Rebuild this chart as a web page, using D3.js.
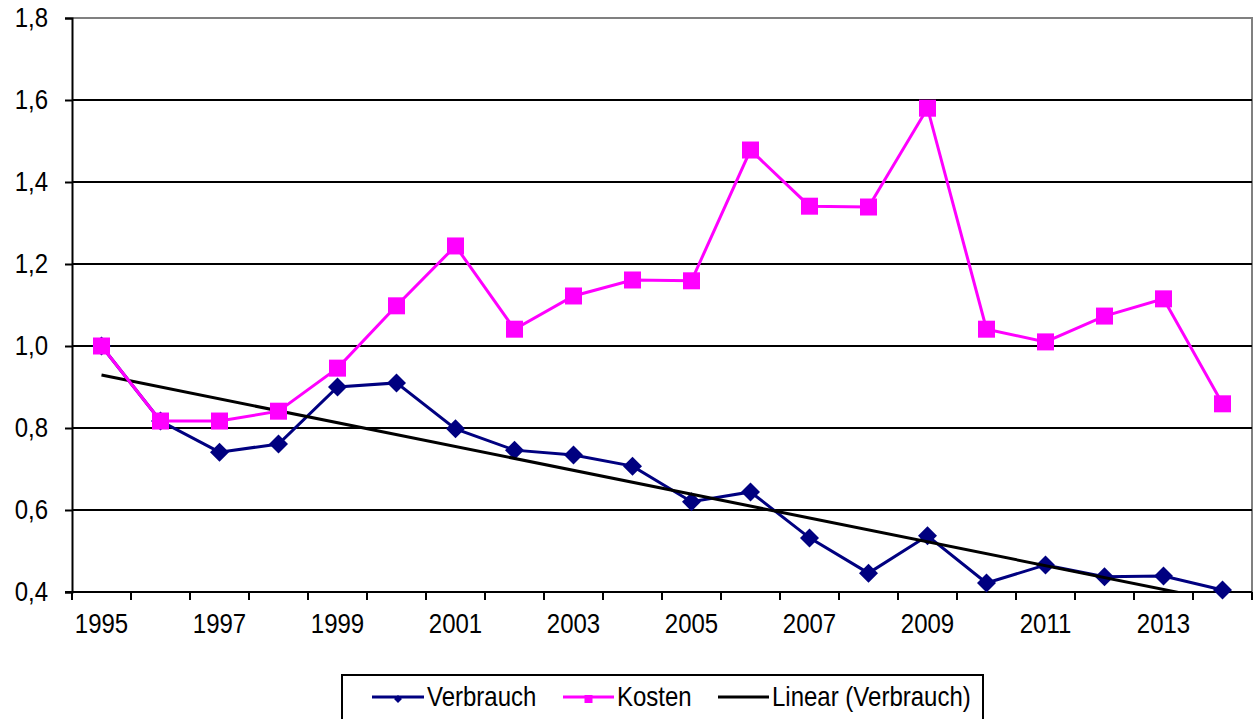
<!DOCTYPE html>
<html>
<head>
<meta charset="utf-8">
<script src="https://cdn.jsdelivr.net/npm/d3@7"></script>
<style>
  html, body { margin: 0; padding: 0; background: #fff; }
  svg { display: block; }
  text { font-family: "Liberation Sans", Arial, sans-serif; fill: #000; font-size: 24px; }
</style>
</head>
<body>
<svg id="chart" width="1258" height="719"></svg>
<script>
// Years on the category axis
const years = [1995, 1996, 1997, 1998, 1999, 2000, 2001, 2002, 2003, 2004,
               2005, 2006, 2007, 2008, 2009, 2010, 2011, 2012, 2013, 2014];
// Consumption index (1995 = 1)
const verbrauch = [1.000, 0.817, 0.741, 0.761, 0.900, 0.910, 0.798, 0.746, 0.734, 0.707,
                   0.620, 0.644, 0.532, 0.446, 0.537, 0.422, 0.466, 0.437, 0.439, 0.405];
// Cost index (1995 = 1)
const kosten = [1.000, 0.817, 0.817, 0.841, 0.946, 1.098, 1.244, 1.041, 1.122, 1.161,
                1.159, 1.478, 1.341, 1.339, 1.580, 1.041, 1.010, 1.073, 1.115, 0.859];
const yTicks = [0.4, 0.6, 0.8, 1.0, 1.2, 1.4, 1.6, 1.8];
const xLabelYears = [1995, 1997, 1999, 2001, 2003, 2005, 2007, 2009, 2011, 2013];
const legendLabels = ["Verbrauch", "Kosten", "Linear (Verbrauch)"];

const navy = "#000080", magenta = "#ff00ff";
const svg = d3.select("#chart");
const plot = { left: 72, right: 1252, top: 18, bottom: 592 };
const stretch = 1.15; // text is drawn slightly taller than wide

const x = d3.scaleBand().domain(years).range([plot.left, plot.right]);
const xc = d => x(d) + x.bandwidth() / 2;
const y = d3.scaleLinear().domain([0.4, 1.8]).range([plot.bottom, plot.top]);

function label(g, tx, ty, str, anchor) {
  return g.append("text")
    .attr("transform", `translate(${tx},${ty}) scale(1,${stretch})`)
    .attr("text-anchor", anchor || "start")
    .text(str);
}

// Outer frame of the plot area (top and right in grey)
svg.append("path")
  .attr("d", `M${plot.left},${plot.top}H${plot.right}V${plot.bottom}`)
  .attr("fill", "none").attr("stroke", "#808080").attr("stroke-width", 2);

// Horizontal gridlines
svg.append("g").selectAll("line")
  .data(yTicks.filter(v => v < 1.8))
  .join("line")
  .attr("x1", plot.left).attr("x2", plot.right)
  .attr("y1", d => y(d)).attr("y2", d => y(d))
  .attr("stroke", "#000").attr("stroke-width", 2);

// Y axis
const yAxis = svg.append("g")
  .attr("transform", `translate(${plot.left},0)`)
  .call(d3.axisLeft(y).tickValues(yTicks).tickSize(7).tickFormat(""));
yAxis.select(".domain").attr("stroke", "#000").attr("stroke-width", 2);
yAxis.selectAll(".tick line").attr("stroke", "#000").attr("stroke-width", 2);
const yl = svg.append("g");
yTicks.forEach(v => label(yl, 48, y(v) + 9, d3.format(".1f")(v).replace(".", ","), "end"));

// X axis: tick marks at category boundaries, labels under every other year
const xg = svg.append("g").attr("transform", `translate(0,${plot.bottom})`);
xg.append("line").attr("x1", plot.left - 7).attr("x2", plot.right)
  .attr("stroke", "#000").attr("stroke-width", 2);
const bounds = years.map(d => x(d)).concat([plot.right]);
xg.selectAll("line.tk").data(bounds).join("line").attr("class", "tk")
  .attr("x1", d => d).attr("x2", d => d).attr("y1", 0).attr("y2", 8)
  .attr("stroke", "#000").attr("stroke-width", 2);
xLabelYears.forEach(yr => label(xg, xc(yr), 41, yr, "middle"));

// Linear trend of consumption (least squares over category index)
const n = verbrauch.length;
const mx = d3.mean(d3.range(n)), my = d3.mean(verbrauch);
const slope = d3.sum(verbrauch, (v, i) => (i - mx) * (v - my)) /
              d3.sum(d3.range(n), i => (i - mx) * (i - mx));
const icpt = my - slope * mx;

svg.append("clipPath").attr("id", "plotclip").append("rect")
  .attr("x", plot.left).attr("y", plot.top)
  .attr("width", plot.right - plot.left).attr("height", plot.bottom - plot.top);

const line = d3.line().x(d => xc(d[0])).y(d => y(d[1]));

// Consumption series
svg.append("path")
  .datum(years.map((yr, i) => [yr, verbrauch[i]]))
  .attr("d", line).attr("fill", "none")
  .attr("stroke", navy).attr("stroke-width", 3);
svg.append("g").selectAll("path")
  .data(years.map((yr, i) => [yr, verbrauch[i]]))
  .join("path")
  .attr("d", d3.symbol(d3.symbolDiamond2, 230))
  .attr("transform", d => `translate(${xc(d[0])},${y(d[1])})`)
  .attr("fill", navy);

// Trend line
svg.append("line")
  .attr("clip-path", "url(#plotclip)")
  .attr("x1", xc(years[0])).attr("y1", y(icpt))
  .attr("x2", xc(years[n - 1])).attr("y2", y(icpt + slope * (n - 1)))
  .attr("stroke", "#000").attr("stroke-width", 3);

// Cost series
svg.append("path")
  .datum(years.map((yr, i) => [yr, kosten[i]]))
  .attr("d", line).attr("fill", "none")
  .attr("stroke", magenta).attr("stroke-width", 3);
svg.append("g").selectAll("rect")
  .data(years.map((yr, i) => [yr, kosten[i]]))
  .join("rect")
  .attr("x", d => xc(d[0]) - 8.5).attr("y", d => y(d[1]) - 8.5)
  .attr("width", 17).attr("height", 17)
  .attr("fill", magenta);

// Legend
const lg = svg.append("g");
lg.append("rect").attr("x", 342).attr("y", 675).attr("width", 641).attr("height", 60)
  .attr("fill", "#fff").attr("stroke", "#000").attr("stroke-width", 2);
const items = [
  { label: legendLabels[0], x0: 372, x1: 424, color: navy, mark: "diamond" },
  { label: legendLabels[1], x0: 563, x1: 614, color: magenta, mark: "square" },
  { label: legendLabels[2], x0: 718, x1: 769, color: "#000", mark: null }
];
const ly = 697;
items.forEach(it => {
  lg.append("line").attr("x1", it.x0).attr("x2", it.x1).attr("y1", ly).attr("y2", ly)
    .attr("stroke", it.color).attr("stroke-width", 3);
  const cx = (it.x0 + it.x1) / 2;
  if (it.mark === "diamond") {
    lg.append("path").attr("d", d3.symbol(d3.symbolDiamond2, 40))
      .attr("transform", `translate(${cx},${ly + 2})`).attr("fill", it.color);
  } else if (it.mark === "square") {
    lg.append("rect").attr("x", cx - 4).attr("y", ly - 2).attr("width", 8).attr("height", 8)
      .attr("fill", it.color);
  }
  label(lg, it.x1 + 3, ly + 9, it.label);
});
</script>
</body>
</html>
